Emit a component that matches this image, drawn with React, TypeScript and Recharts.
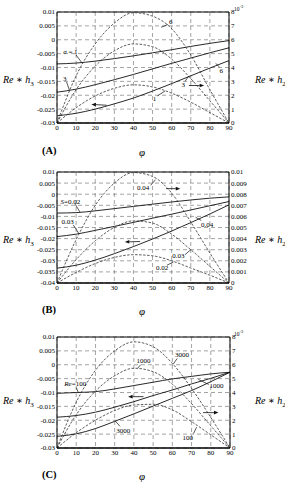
import React from "react";
import {
  CartesianGrid,
  Line,
  LineChart,
  ReferenceDot,
  ReferenceLine,
  XAxis,
  YAxis,
} from "recharts";

const PHI = [0, 10, 20, 30, 40, 50, 60, 70, 80, 90];
const PHI_TICKS = [0, 10, 20, 30, 40, 50, 60, 70, 80, 90];

// (A) sigma = 1, 3, 6 ; h3 on left axis, h2 (x10^-3) on right axis
const A_H3_S1 = [-0.0087, -0.0084, -0.0077, -0.0068, -0.0058, -0.0047, -0.0036, -0.0024, -0.0013, -0.0003];
const A_H3_S3 = [-0.0189, -0.0178, -0.0162, -0.0144, -0.0125, -0.0105, -0.0085, -0.0066, -0.0047, -0.0029];
const A_H3_S6 = [-0.0274, -0.0265, -0.025, -0.0231, -0.021, -0.0185, -0.0158, -0.013, -0.0102, -0.0075];
const A_H2_S1 = [0, 1.1, 1.95, 2.5, 2.75, 2.6, 2.15, 1.5, 0.75, 0];
const A_H2_S3 = [0, 2.4, 4.1, 5.2, 5.7, 5.5, 4.6, 3.2, 1.6, 0];
const A_H2_S6 = [0, 3.4, 5.7, 7.2, 7.95, 7.7, 6.8, 4.9, 2.4, 0];
const A_LEFT_TICKS = [-0.03, -0.025, -0.02, -0.015, -0.01, -0.005, 0, 0.005, 0.01];
const A_LEFT_LABELS = ["-0.03", "-0.025", "-0.02", "-0.015", "-0.01", "-0.005", "0", "0.005", "0.01"];
const A_RIGHT_TICKS = [0, 1, 2, 3, 4, 5, 6, 7, 8];
const A_RIGHT_LABELS = ["0", "1", "2", "3", "4", "5", "6", "7", "8"];

// (B) S = 0.02, 0.03, 0.04
const B_H3_S02 = [-0.0085, -0.0083, -0.0075, -0.0065, -0.0055, -0.0045, -0.0035, -0.0026, -0.0018, -0.0012];
const B_H3_S03 = [-0.0191, -0.018, -0.0163, -0.0145, -0.0127, -0.0108, -0.009, -0.0071, -0.0052, -0.0033];
const B_H3_S04 = [-0.0333, -0.032, -0.0297, -0.0268, -0.0236, -0.0202, -0.0166, -0.0128, -0.0089, -0.0048];
const B_H2_S02 = [0, 0.00095, 0.00175, 0.0023, 0.00255, 0.00245, 0.002, 0.00135, 0.0007, 0];
const B_H2_S03 = [0, 0.0021, 0.0038, 0.005, 0.0056, 0.0054, 0.0044, 0.003, 0.0015, 0];
const B_H2_S04 = [0, 0.0039, 0.007, 0.009, 0.00995, 0.0096, 0.0081, 0.0055, 0.0027, 0];
const B_LEFT_TICKS = [-0.04, -0.035, -0.03, -0.025, -0.02, -0.015, -0.01, -0.005, 0, 0.005, 0.01];
const B_LEFT_LABELS = ["-0.04", "-0.035", "-0.03", "-0.025", "-0.02", "-0.015", "-0.01", "-0.005", "0", "0.005", "0.01"];
const B_RIGHT_TICKS = [0, 0.001, 0.002, 0.003, 0.004, 0.005, 0.006, 0.007, 0.008, 0.009, 0.01];
const B_RIGHT_LABELS = ["0", "0.001", "0.002", "0.003", "0.004", "0.005", "0.006", "0.007", "0.008", "0.009", "0.01"];

// (C) Re = 100, 1000, 3000
const C_H3_R100 = [-0.0103, -0.01, -0.0097, -0.0087, -0.0075, -0.0063, -0.0051, -0.0042, -0.0033, -0.0027];
const C_H3_R1000 = [-0.0189, -0.0183, -0.0171, -0.0153, -0.0133, -0.0111, -0.0091, -0.0069, -0.0049, -0.0027];
const C_H3_R3000 = [-0.0258, -0.0249, -0.023, -0.0204, -0.0177, -0.0149, -0.0121, -0.0093, -0.0061, -0.0027];
const C_H2_R100 = [0, 1.1, 2.0, 2.7, 3.1, 3.15, 2.75, 1.9, 0.95, 0];
const C_H2_R1000 = [0, 2.4, 4.1, 5.2, 5.75, 5.5, 4.6, 3.2, 1.6, 0];
const C_H2_R3000 = [0, 3.3, 5.6, 7.0, 7.65, 7.3, 6.1, 4.3, 2.2, 0];

const FONT = "'Liberation Serif', 'DejaVu Serif', serif";

type Note =
  | { kind: "text"; x: number; y: number; axis: "l" | "r"; text: React.ReactNode }
  | { kind: "lead" | "arrow"; x1: number; y1: number; x2: number; y2: number; axis: "l" | "r" };

type PanelProps = {
  top: number;
  rows: Record<string, number>[];
  h3: string[];
  h2: string[];
  leftTicks: number[];
  leftLabels: string[];
  rightTicks: number[];
  rightLabels: string[];
  rightWidth: number;
  notes: Note[];
};

const fmt = (ticks: number[], labels: string[]) => (v: number) => {
  const i = ticks.findIndex((t) => Math.abs(t - v) < 1e-9);
  return i >= 0 ? labels[i] : String(v);
};

function arrowShape(p: any) {
  const { x1, y1, x2, y2 } = p;
  const dx = x2 - x1;
  const dy = y2 - y1;
  const len = Math.hypot(dx, dy) || 1;
  const ux = dx / len;
  const uy = dy / len;
  const L = 4.5;
  const W = 1.8;
  const bx = x2 - ux * L;
  const by = y2 - uy * L;
  return (
    <g>
      <line x1={x1} y1={y1} x2={bx} y2={by} stroke="#111" strokeWidth={0.8} />
      <polygon
        points={`${x2},${y2} ${bx - uy * W},${by + ux * W} ${bx + uy * W},${by - ux * W}`}
        fill="#111"
      />
    </g>
  );
}

function Panel(props: PanelProps) {
  const tick = { fontSize: 7, fill: "#000", fontFamily: FONT };
  const lo = props.leftTicks[0];
  const hi = props.leftTicks[props.leftTicks.length - 1];
  return (
    <div style={{ position: "absolute", left: 0, top: props.top, fontFamily: FONT }}>
      <LineChart
        width={285}
        height={137}
        data={props.rows}
        margin={{ top: 12, right: 0, bottom: 0, left: 0 }}
        style={{ fontFamily: FONT }}
      >
        <CartesianGrid yAxisId="l" stroke="#666" strokeDasharray="4 3" strokeWidth={0.6} />
        <XAxis
          dataKey="phi"
          type="number"
          domain={[0, 90]}
          ticks={PHI_TICKS}
          height={14}
          tick={tick}
          tickLine={false}
          tickSize={2}
          tickMargin={0}
          axisLine={{ stroke: "#000", strokeWidth: 1.6 }}
          interval={0}
        />
        <YAxis
          yAxisId="l"
          orientation="left"
          width={57}
          domain={[lo, hi]}
          ticks={props.leftTicks}
          tickFormatter={fmt(props.leftTicks, props.leftLabels)}
          tick={tick}
          tickLine={false}
          tickSize={2}
          tickMargin={0}
          axisLine={{ stroke: "#000" }}
          interval={0}
          allowDataOverflow
        />
        <YAxis
          yAxisId="r"
          orientation="right"
          width={props.rightWidth}
          domain={[props.rightTicks[0], props.rightTicks[props.rightTicks.length - 1]]}
          ticks={props.rightTicks}
          tickFormatter={fmt(props.rightTicks, props.rightLabels)}
          tick={tick}
          tickLine={false}
          tickSize={2}
          tickMargin={0}
          axisLine={{ stroke: "#000" }}
          interval={0}
          allowDataOverflow
        />
        <ReferenceLine yAxisId="l" y={hi} stroke="#000" strokeWidth={1} />
        {props.h3.map((k) => (
          <Line
            key={k}
            yAxisId="l"
            dataKey={k}
            type="monotone"
            stroke="#111"
            strokeWidth={0.9}
            dot={false}
            isAnimationActive={false}
          />
        ))}
        {props.h2.map((k) => (
          <Line
            key={k}
            yAxisId="r"
            dataKey={k}
            type="monotone"
            stroke="#333"
            strokeWidth={0.8}
            strokeDasharray="2.5 1.5"
            dot={false}
            isAnimationActive={false}
          />
        ))}
        {props.notes.map((n, i) =>
          n.kind === "text" ? (
            <ReferenceDot
              key={i}
              yAxisId={n.axis}
              x={n.x}
              y={n.y}
              r={0}
              shape={(p: any) => (
                <text
                  x={p.cx}
                  y={p.cy}
                  fontSize={7}
                  fontFamily={FONT}
                  textAnchor="middle"
                  dominantBaseline="central"
                  fill="#000"
                >
                  {n.text}
                </text>
              )}
            />
          ) : (
            <ReferenceLine
              key={i}
              yAxisId={n.axis}
              segment={[
                { x: n.x1, y: n.y1 },
                { x: n.x2, y: n.y2 },
              ]}
              stroke="#111"
              strokeWidth={0.7}
              shape={n.kind === "arrow" ? arrowShape : undefined}
            />
          )
        )}
      </LineChart>
    </div>
  );
}

const rowsA = PHI.map((p, i) => ({
  phi: p,
  s1: A_H3_S1[i],
  s3: A_H3_S3[i],
  s6: A_H3_S6[i],
  a1: A_H2_S1[i],
  a3: A_H2_S3[i],
  a6: A_H2_S6[i],
}));
const rowsB = PHI.map((p, i) => ({
  phi: p,
  s1: B_H3_S02[i],
  s3: B_H3_S03[i],
  s6: B_H3_S04[i],
  a1: B_H2_S02[i],
  a3: B_H2_S03[i],
  a6: B_H2_S04[i],
}));
const rowsC = PHI.map((p, i) => ({
  phi: p,
  s1: C_H3_R100[i],
  s3: C_H3_R1000[i],
  s6: C_H3_R3000[i],
  a1: C_H2_R100[i],
  a3: C_H2_R1000[i],
  a6: C_H2_R3000[i],
}));

const it = (s: string) => <tspan fontStyle="italic">{s}</tspan>;

const notesA: Note[] = [
  { kind: "text", axis: "l", x: 7, y: -0.0043, text: <>{it("σ")} = 1</> },
  { kind: "lead", axis: "l", x1: 10, y1: -0.0055, x2: 13, y2: -0.0083 },
  { kind: "text", axis: "l", x: 4, y: -0.014, text: "3" },
  { kind: "lead", axis: "l", x1: 5, y1: -0.0152, x2: 6.5, y2: -0.0182 },
  { kind: "text", axis: "l", x: 86, y: -0.0112, text: "6" },
  { kind: "lead", axis: "l", x1: 85, y1: -0.0098, x2: 83, y2: -0.0085 },
  { kind: "text", axis: "r", x: 59.5, y: 7.3, text: "6" },
  { kind: "lead", axis: "r", x1: 58, y1: 7.1, x2: 54.5, y2: 6.9 },
  { kind: "text", axis: "r", x: 66, y: 2.75, text: "3" },
  { kind: "lead", axis: "r", x1: 67, y1: 3.0, x2: 69, y2: 3.4 },
  { kind: "text", axis: "r", x: 51, y: 1.75, text: "1" },
  { kind: "lead", axis: "r", x1: 52.5, y1: 1.95, x2: 56.5, y2: 2.3 },
  { kind: "arrow", axis: "l", x1: 26, y1: -0.0236, x2: 18, y2: -0.0233 },
  { kind: "arrow", axis: "r", x1: 69, y1: 2.7, x2: 77, y2: 2.7 },
];

const notesB: Note[] = [
  { kind: "text", axis: "l", x: 7, y: -0.0033, text: <>{it("S")}=0.02</> },
  { kind: "lead", axis: "l", x1: 9.5, y1: -0.0045, x2: 12, y2: -0.008 },
  { kind: "text", axis: "l", x: 5.5, y: -0.0125, text: "0.03" },
  { kind: "lead", axis: "l", x1: 8.5, y1: -0.0138, x2: 11.5, y2: -0.0178 },
  { kind: "text", axis: "r", x: 45, y: 0.0086, text: "0.04" },
  { kind: "lead", axis: "r", x1: 49, y1: 0.0088, x2: 51.5, y2: 0.0093 },
  { kind: "arrow", axis: "r", x1: 57, y1: 0.0085, x2: 64.5, y2: 0.0085 },
  { kind: "text", axis: "l", x: 78.5, y: -0.014, text: "0.04" },
  { kind: "lead", axis: "l", x1: 75.5, y1: -0.0118, x2: 72.5, y2: -0.0104 },
  { kind: "arrow", axis: "l", x1: 43.5, y1: -0.0213, x2: 35.5, y2: -0.0215 },
  { kind: "text", axis: "r", x: 63.5, y: 0.0024, text: "0.03" },
  { kind: "lead", axis: "r", x1: 67, y1: 0.00255, x2: 70, y2: 0.003 },
  { kind: "text", axis: "r", x: 55, y: 0.00135, text: "0.02" },
  { kind: "lead", axis: "r", x1: 57.5, y1: 0.0016, x2: 61, y2: 0.0019 },
];

const notesC: Note[] = [
  { kind: "text", axis: "l", x: 9.5, y: -0.007, text: <>{it("Re")}=100</> },
  { kind: "lead", axis: "l", x1: 10, y1: -0.0082, x2: 11, y2: -0.0099 },
  { kind: "text", axis: "r", x: 45, y: 6.3, text: "1000" },
  { kind: "lead", axis: "r", x1: 43.5, y1: 6.0, x2: 42, y2: 5.75 },
  { kind: "text", axis: "r", x: 65, y: 6.7, text: "3000" },
  { kind: "lead", axis: "r", x1: 62.5, y1: 6.45, x2: 60.5, y2: 6.05 },
  { kind: "text", axis: "l", x: 83, y: -0.0078, text: "1000" },
  { kind: "lead", axis: "l", x1: 79, y1: -0.0071, x2: 73.5, y2: -0.0053 },
  { kind: "arrow", axis: "l", x1: 45, y1: -0.0115, x2: 37, y2: -0.0115 },
  { kind: "arrow", axis: "r", x1: 76, y1: 2.55, x2: 84, y2: 2.55 },
  { kind: "text", axis: "l", x: 34.5, y: -0.0237, text: "3000" },
  { kind: "lead", axis: "l", x1: 32.8, y1: -0.0222, x2: 30.2, y2: -0.0202 },
  { kind: "text", axis: "r", x: 68, y: 0.72, text: "100" },
  { kind: "lead", axis: "r", x1: 71, y1: 1.03, x2: 72.6, y2: 1.5 },
];

function Side({ top, sub, left }: { top: number; sub: string; left: number }) {
  return (
    <div
      style={{
        position: "absolute",
        left,
        top,
        fontFamily: FONT,
        fontSize: 10,
        fontStyle: "italic",
        lineHeight: "12px",
        whiteSpace: "nowrap",
      }}
    >
      Re ∗ h<sub style={{ fontSize: 7, fontStyle: "normal" }}>{sub}</sub>
    </div>
  );
}

function Caption({ top, tag, phiTop }: { top: number; tag: string; phiTop: number }) {
  return (
    <>
      <div
        style={{
          position: "absolute",
          left: 42,
          top,
          fontFamily: FONT,
          fontSize: 10.5,
          fontWeight: "bold",
          lineHeight: "12px",
        }}
      >
        {tag}
      </div>
      <div
        style={{
          position: "absolute",
          left: 139,
          top: phiTop,
          fontFamily: FONT,
          fontSize: 11,
          fontStyle: "italic",
          lineHeight: "12px",
        }}
      >
        φ
      </div>
    </>
  );
}

function Exp({ top }: { top: number }) {
  return (
    <div
      style={{
        position: "absolute",
        left: 234,
        top,
        fontFamily: FONT,
        fontSize: 5.5,
        lineHeight: "7px",
        whiteSpace: "nowrap",
      }}
    >
      10<sup style={{ fontSize: 4.5 }}>-3</sup>
    </div>
  );
}

export default function App() {
  const keysH3 = ["s1", "s3", "s6"];
  const keysH2 = ["a1", "a3", "a6"];
  return (
    <div
      style={{
        position: "absolute",
        left: 0,
        top: 0,
        width: 285,
        height: 483,
        background: "#fff",
        fontFamily: FONT,
      }}
    >
      <Panel
        top={0}
        rows={rowsA}
        h3={keysH3}
        h2={keysH2}
        leftTicks={A_LEFT_TICKS}
        leftLabels={A_LEFT_LABELS}
        rightTicks={A_RIGHT_TICKS}
        rightLabels={A_RIGHT_LABELS}
        rightWidth={56}
        notes={notesA}
      />
      <Panel
        top={160}
        rows={rowsB}
        h3={keysH3}
        h2={keysH2}
        leftTicks={B_LEFT_TICKS}
        leftLabels={B_LEFT_LABELS}
        rightTicks={B_RIGHT_TICKS}
        rightLabels={B_RIGHT_LABELS}
        rightWidth={56}
        notes={notesB}
      />
      <Panel
        top={325}
        rows={rowsC}
        h3={keysH3}
        h2={keysH2}
        leftTicks={A_LEFT_TICKS}
        leftLabels={A_LEFT_LABELS}
        rightTicks={A_RIGHT_TICKS}
        rightLabels={A_RIGHT_LABELS}
        rightWidth={55}
        notes={notesC}
      />
      <Side top={74} sub="3" left={3} />
      <Side top={74} sub="2" left={255} />
      <Side top={234} sub="3" left={3} />
      <Side top={234} sub="2" left={255} />
      <Side top={395} sub="3" left={3} />
      <Side top={395} sub="2" left={255} />
      <Exp top={3} />
      <Exp top={328} />
      <Caption top={145} tag="(A)" phiTop={146} />
      <Caption top={304} tag="(B)" phiTop={305} />
      <Caption top={469} tag="(C)" phiTop={470} />
    </div>
  );
}
